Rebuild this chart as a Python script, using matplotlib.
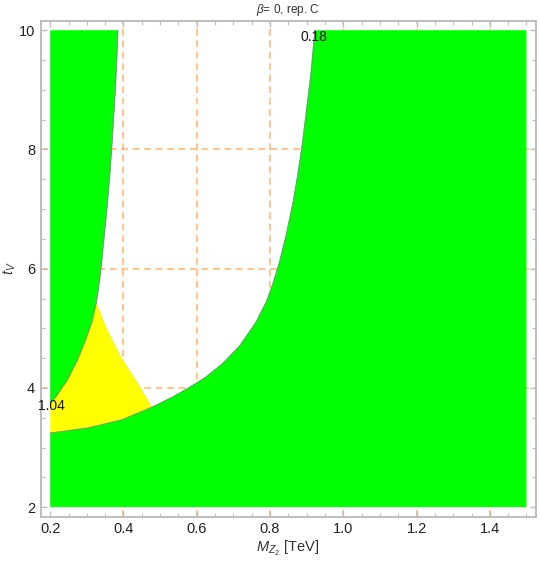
import matplotlib
matplotlib.use("Agg")
import matplotlib.pyplot as plt
import numpy as np

plt.rcParams['font.family'] = ['Liberation Sans', 'DejaVu Sans']
plt.rcParams['mathtext.fontset'] = 'custom'
plt.rcParams['mathtext.rm'] = 'Liberation Sans'
plt.rcParams['mathtext.it'] = 'Liberation Sans:italic'

# plot range (TeV, t_V)
x_min, x_max = 0.2, 1.5
t_min, t_max = 2.0, 10.0

# left boundary (green / white-yellow)
left_x = [0.200, 0.216, 0.247, 0.275, 0.297, 0.316, 0.326, 0.331, 0.336,
          0.340, 0.347, 0.355, 0.362, 0.368, 0.373, 0.378, 0.382, 0.385]
left_t = [3.74, 3.85, 4.13, 4.47, 4.80, 5.14, 5.43, 5.62, 5.85,
          6.07, 6.50, 7.00, 7.50, 8.00, 8.50, 9.00, 9.50, 10.0]

# yellow / white edge
edge_x = [0.326, 0.356, 0.393, 0.434, 0.478]
edge_t = [5.43, 4.97, 4.52, 4.13, 3.68]

# lower-right boundary (green / white-yellow)
right_x = [0.200, 0.306, 0.397, 0.478, 0.534, 0.579, 0.625, 0.670, 0.716,
           0.761, 0.790, 0.807, 0.825, 0.845, 0.862, 0.876, 0.888, 0.899,
           0.911, 0.922]
right_t = [3.244, 3.334, 3.47, 3.68, 3.85, 4.007, 4.185, 4.41, 4.70,
           5.10, 5.45, 5.74, 6.10, 6.60, 7.10, 7.60, 8.10, 8.65,
           9.25, 10.0]

grid_x = [0.4, 0.6, 0.8, 1.0, 1.2, 1.4]
grid_t = [4, 6, 8]

contour_labels = ["1.04", "0.18"]
label_pos = [(0.203, 3.70), (0.92, 9.88)]

green = '#00FF00'
yellow = '#FFFF00'
edge_col = '#7A6A8A'
grid_col = '#FFB46A'
tick_orange = '#C8702A'
frame_col = '#BDBDBD'

fig = plt.figure(figsize=(5.4, 5.63), dpi=100)
ax = fig.add_axes([40.7 / 540, 1 - 516.7 / 563, (536 - 40.7) / 540, (516.7 - 20.7) / 563])

pad_x = 0.02 * (x_max - x_min)
pad_t = 0.02 * (t_max - t_min)
ax.set_xlim(x_min - pad_x, x_max + pad_x)
ax.set_ylim(t_min - pad_t, t_max + pad_t)

# grid lines sit behind the regions
for gx in grid_x:
    ax.axvline(gx, color=grid_col, lw=1.1, dashes=(4.5, 3), zorder=1)
for gt in grid_t:
    ax.axhline(gt, color=grid_col, lw=1.1, dashes=(4.5, 3), zorder=1)

# left green region
lx = np.array(left_x)
lt = np.array(left_t)
ax.fill(np.r_[x_min, lx[::-1]], np.r_[t_max, lt[::-1]], color=green, lw=0, zorder=2)

# lower-right green region
rx = np.array(right_x)
rt = np.array(right_t)
ax.fill(np.r_[rx, x_max, x_max, x_min], np.r_[rt, t_max, t_min, t_min],
        color=green, lw=0, zorder=2)

# yellow region
n_tip = left_x.index(edge_x[0]) + 1
n_low = right_x.index(edge_x[-1]) + 1
yx = np.r_[lx[:n_tip], edge_x[1:], rx[:n_low - 1][::-1]]
yt = np.r_[lt[:n_tip], edge_t[1:], rt[:n_low - 1][::-1]]
ax.fill(yx, yt, color=yellow, lw=0, zorder=2)

# boundaries
ax.plot(left_x, left_t, color=edge_col, lw=0.6, alpha=0.8, zorder=3)
ax.plot(right_x, right_t, color=edge_col, lw=0.6, alpha=0.8, zorder=3)
ax.plot(edge_x, edge_t, color=edge_col, lw=0.5, alpha=0.4, dashes=(1, 1.5), zorder=3)

for txt, (px, pt) in zip(contour_labels, label_pos):
    ax.text(px, pt, txt, ha='center', va='center', fontsize=10, color='#111111', zorder=4)

# frame and ticks
for s in ax.spines.values():
    s.set_color(frame_col)
    s.set_linewidth(1.4)
ax.set_xticks(np.arange(0.2, 1.41, 0.2))
ax.set_xticks(np.arange(0.2, 1.501, 0.05), minor=True)
ax.set_yticks(np.arange(2, 10.1, 2))
ax.set_yticks(np.arange(2, 10.01, 0.5), minor=True)
ax.set_xticklabels(['%.1f' % v for v in np.arange(0.2, 1.41, 0.2)])
ax.set_yticklabels(['%d' % v for v in np.arange(2, 10.1, 2)])
ax.tick_params(which='both', direction='in', top=True, right=True, color=frame_col,
               labelsize=10.5, labelcolor='#222222')
ax.tick_params(which='major', length=4.2, width=1.0, pad=4)
ax.tick_params(which='minor', length=2.6, width=0.8)

for tk, v in zip(ax.xaxis.get_major_ticks(), ax.get_xticks()):
    if any(abs(v - g) < 1e-6 for g in grid_x):
        tk.tick1line.set_color(tick_orange)
        tk.tick2line.set_color(tick_orange)
for tk, v in zip(ax.yaxis.get_major_ticks(), ax.get_yticks()):
    if any(abs(v - g) < 1e-6 for g in grid_t):
        tk.tick1line.set_color(tick_orange)
        tk.tick2line.set_color(tick_orange)

fig.text(288 / 540, 1 - 10 / 563, r'$\beta$= 0, rep. C', ha='center', va='center',
         fontsize=8.5, color='#333333')
fig.text(288 / 540, 1 - 548 / 563, r'$M_{Z_2}$ [TeV]', ha='center', va='center',
         fontsize=10.5, color='#333333')
fig.text(10 / 540, 1 - 268 / 563, r'$t_V$', ha='center', va='center', rotation=90,
         fontsize=10.5, color='#333333')

fig.savefig('out.png', dpi=100)
